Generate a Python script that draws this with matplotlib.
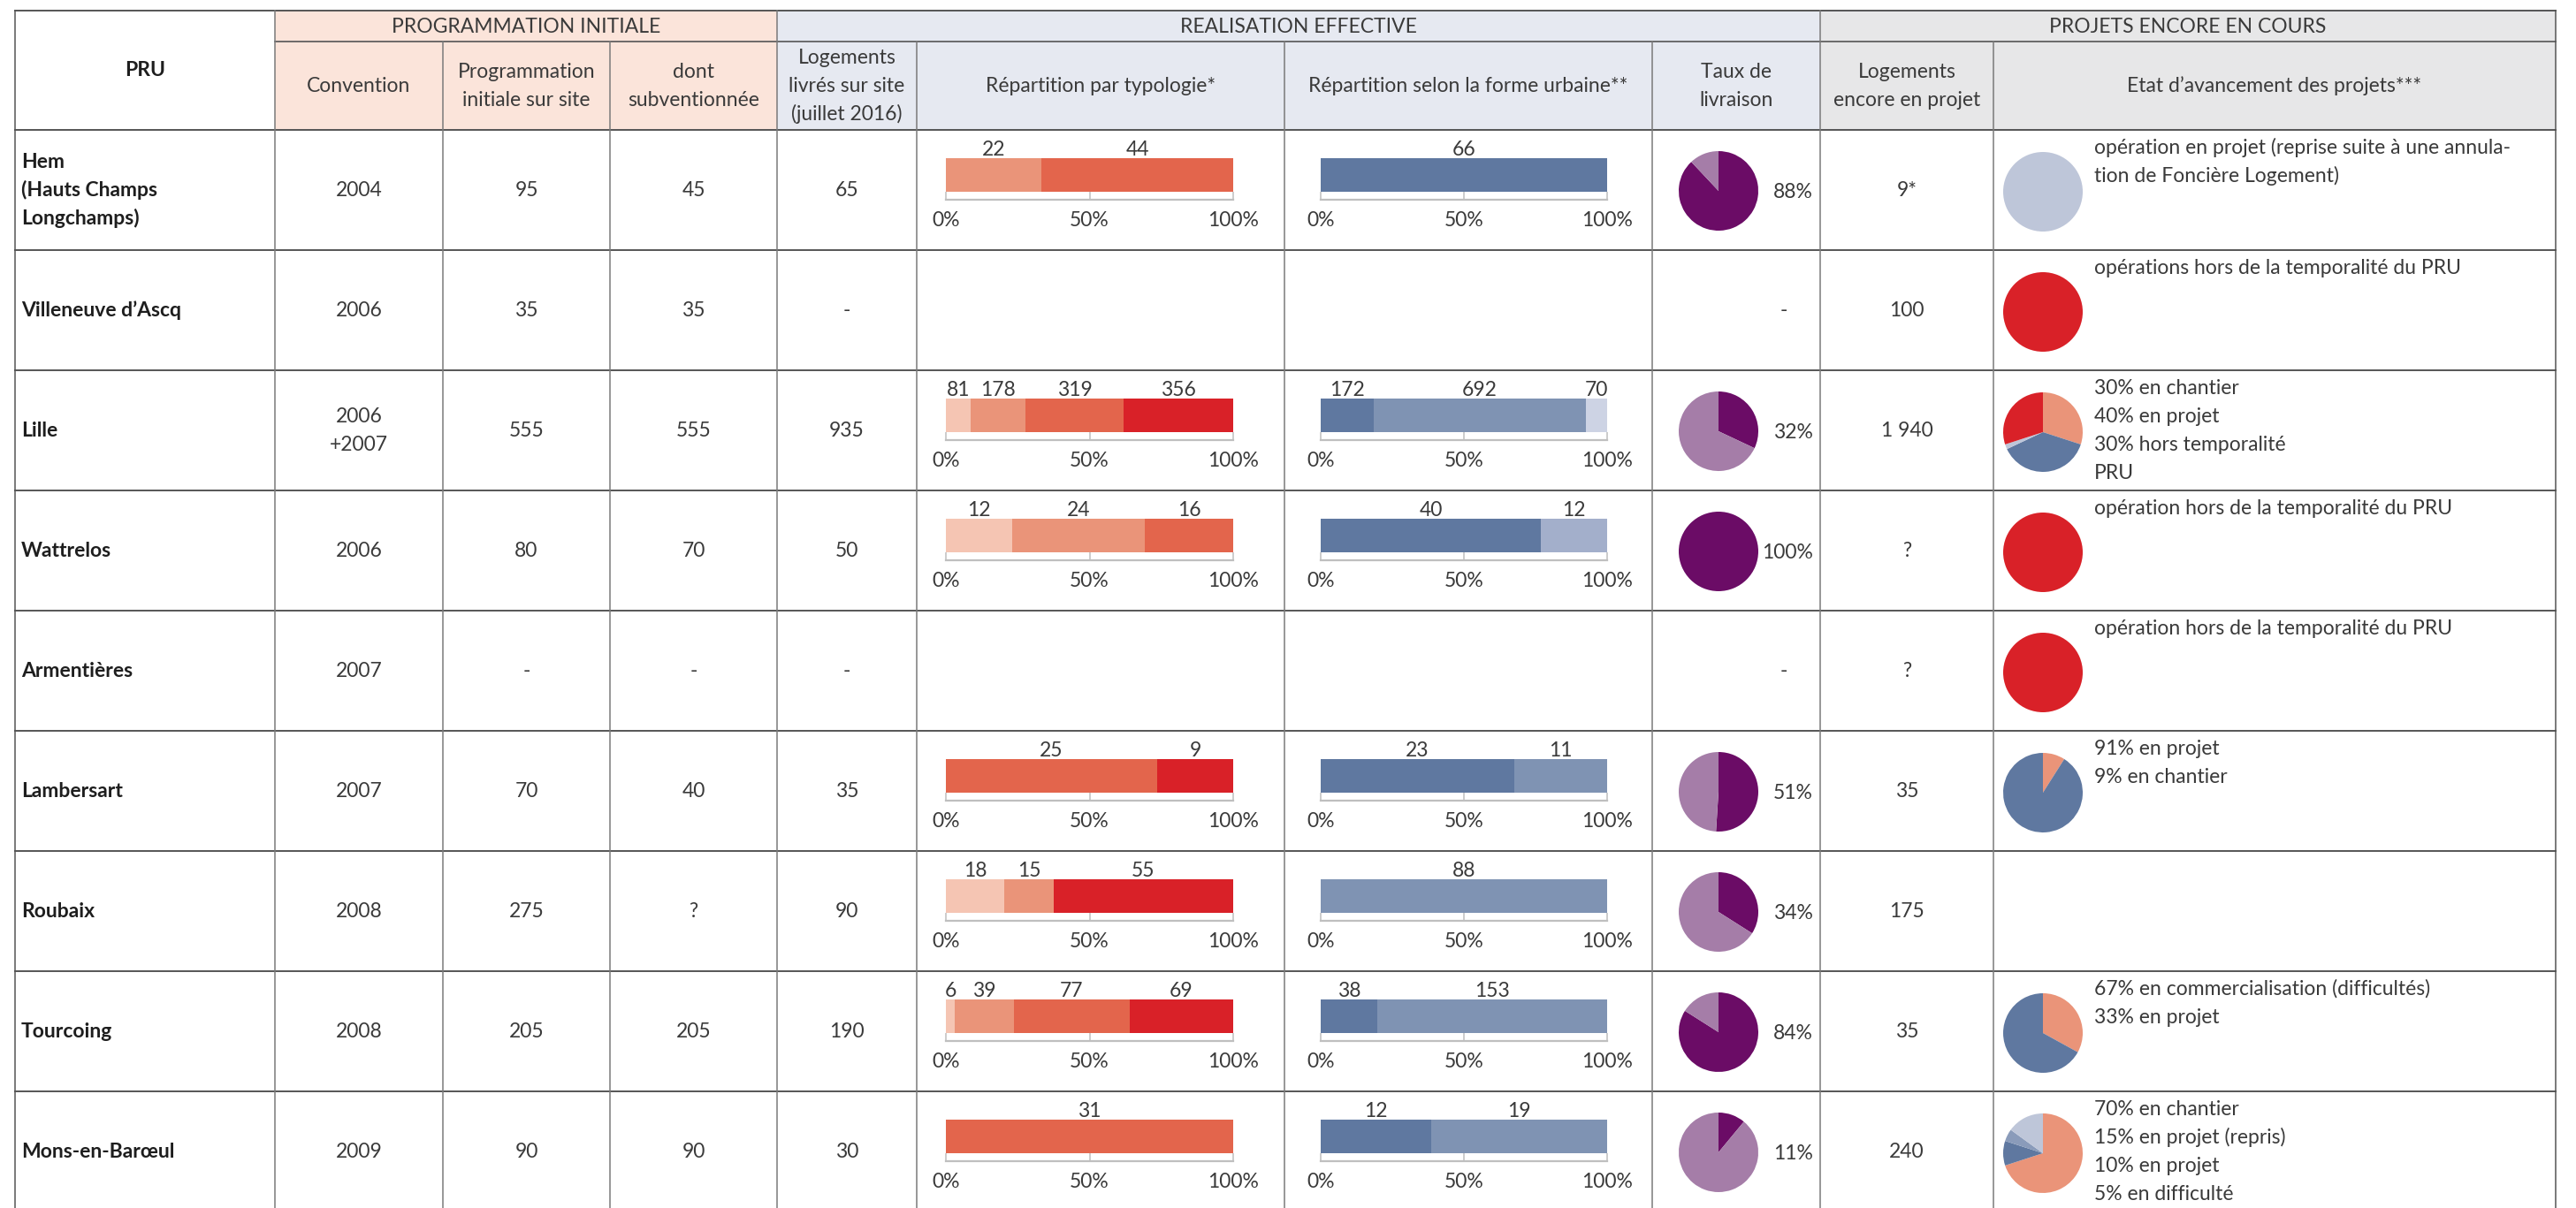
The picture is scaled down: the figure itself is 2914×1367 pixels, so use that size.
import matplotlib
matplotlib.use("Agg")
import matplotlib.pyplot as plt
from matplotlib.patches import Rectangle

# ---------------- data ----------------
pru_names = [["Hem", "(Hauts Champs", "Longchamps)"], ["Villeneuve d’Ascq"], ["Lille"],
             ["Wattrelos"], ["Armentières"], ["Lambersart"], ["Roubaix"], ["Tourcoing"],
             ["Mons-en-Barœul"]]
convention = [["2004"], ["2006"], ["2006", "+2007"], ["2006"], ["2007"], ["2007"],
              ["2008"], ["2008"], ["2009"]]
prog_initiale = ["95", "35", "555", "80", "-", "70", "275", "205", "90"]
dont_subv = ["45", "35", "555", "70", "-", "40", "?", "205", "90"]
logements_livres = ["65", "-", "935", "50", "-", "35", "90", "190", "30"]

# Répartition par typologie (4 categories, 0 = absent)
typologie = [[0, 22, 44, 0], None, [81, 178, 319, 356], [12, 24, 16, 0], None,
             [0, 0, 25, 9], [18, 15, 0, 55], [6, 39, 77, 69], [0, 0, 31, 0]]
# Répartition selon la forme urbaine (4 categories, 0 = absent)
forme_urbaine = [[66, 0, 0, 0], None, [172, 692, 0, 70], [40, 0, 12, 0], None,
                 [23, 11, 0, 0], [0, 88, 0, 0], [38, 153, 0, 0], [12, 19, 0, 0]]
taux_livraison = [88, None, 32, 100, None, 51, 34, 84, 11]
logements_encore = ["9*", "100", "1 940", "?", "?", "35", "175", "35", "240"]

etat_values = [[100], [100], [30, 38, 2, 30], [100], [100], [9, 91], None,
               [33, 67], [70, 10, 5, 15]]
etat_text = [
    ["opération en projet (reprise suite à une annula-", "tion de Foncière Logement)"],
    ["opérations hors de la temporalité du PRU"],
    ["30% en chantier", "40% en projet", "30% hors temporalité", "PRU"],
    ["opération hors de la temporalité du PRU"],
    ["opération hors de la temporalité du PRU"],
    ["91% en projet", "9% en chantier"],
    [],
    ["67% en commercialisation (difficultés)", "33% en projet"],
    ["70% en chantier", "15% en projet (repris)", "10% en projet", "5% en difficulté"],
]

group_headers = ["PROGRAMMATION INITIALE", "REALISATION EFFECTIVE", "PROJETS ENCORE EN COURS"]
col_headers = [["PRU"], ["Convention"], ["Programmation", "initiale sur site"],
               ["dont", "subventionnée"], ["Logements", "livrés sur site", "(juillet 2016)"],
               ["Répartition par typologie*"], ["Répartition selon la forme urbaine**"],
               ["Taux de", "livraison"], ["Logements", "encore en projet"],
               ["Etat d’avancement des projets***"]]

# ---------------- style ----------------
TYPO_COLORS = ["#F5C5B3", "#EA9479", "#E3654C", "#D92128"]
FORME_COLORS = ["#5F78A0", "#7F93B3", "#A3AFCB", "#CDD3E4"]
TAUX_COLORS = ["#6B0C66", "#A57DA8"]
SALMON, DBLUE, MBLUE, LBLUE, RED = "#EA9479", "#5F78A0", "#8A9BBA", "#BEC6D9", "#D92128"
etat_colors = [[LBLUE], [RED], [SALMON, DBLUE, LBLUE, RED], [RED], [RED], [SALMON, DBLUE],
               None, [SALMON, DBLUE], [SALMON, DBLUE, MBLUE, LBLUE]]
BG_SALMON, BG_BLUE, BG_GRAY = "#FBE4DA", "#E6E9F1", "#E7E7E8"
TXT = "#3a3a3a"
BOLD_TXT = "#1E1E1E"
FS = 16.5
LS = 32  # line spacing px
FW = "normal"

plt.rcParams["font.family"] = ["Lato", "DejaVu Sans"]

W, H = 2914, 1367
fig = plt.figure(figsize=(W / 100, H / 100), dpi=100)
bg = fig.add_axes([0, 0, 1, 1])
bg.set_xlim(0, W)
bg.set_ylim(H, 0)
bg.axis("off")

col_x = [17, 311, 501, 690, 879, 1037, 1453, 1869, 2059, 2255, 2891]
hdr_y = [12, 47, 147]
ROW_H = 136
n_rows = len(pru_names)
row_y = [147 + ROW_H * i for i in range(n_rows + 1)]


def frect(x0, y0, x1, y1):
    return [x0 / W, 1 - y1 / H, (x1 - x0) / W, (y1 - y0) / H]


def lines_text(x, yc, lines, ha="center", bold=False, color=TXT):
    n = len(lines)
    for k, s in enumerate(lines):
        bg.text(x, yc + (k - (n - 1) / 2) * LS, s, ha=ha, va="center", fontsize=FS,
                color=color, fontweight="bold" if bold else FW)


# header backgrounds
groups = [(col_x[1], col_x[4], BG_SALMON), (col_x[4], col_x[8], BG_BLUE), (col_x[8], col_x[10], BG_GRAY)]
for (x0, x1, c), title in zip(groups, group_headers):
    bg.add_patch(Rectangle((x0, hdr_y[0]), x1 - x0, hdr_y[2] - hdr_y[0], color=c, lw=0, zorder=0))
    bg.text((x0 + x1) / 2, (hdr_y[0] + hdr_y[1]) / 2 + 1, title, ha="center", va="center",
            fontsize=FS, color=TXT, fontweight=FW)

for j, lines in enumerate(col_headers):
    xc = (col_x[j] + col_x[j + 1]) / 2
    if j == 0:
        lines_text(xc, (hdr_y[0] + hdr_y[2]) / 2, lines, bold=True, color=BOLD_TXT)
    else:
        lines_text(xc, (hdr_y[1] + hdr_y[2]) / 2, lines)

# grid lines
HC, VC = "#555555", "#7a7a7a"
bg.plot([col_x[0], col_x[-1]], [hdr_y[0]] * 2, color=HC, lw=1.4)
bg.plot([col_x[1], col_x[-1]], [hdr_y[1]] * 2, color=HC, lw=1.2)
for y in row_y[:-1]:
    bg.plot([col_x[0], col_x[-1]], [y, y], color=HC, lw=1.4)
for j, x in enumerate(col_x):
    y0 = hdr_y[0] if j in (0, 1, 4, 8, 10) else hdr_y[1]
    bg.plot([x, x], [y0, H], color=VC if j not in (0, 10) else HC, lw=1.1)


def draw_bar(ax, vals, colors):
    total = sum(vals)
    left = 0.0
    for v, c in zip(vals, colors):
        if v == 0:
            continue
        w = v / total
        ax.barh(0.5, w, left=left, height=1.0, color=c, linewidth=0)
        ax.text(left + w / 2, 1.08, str(v), ha="center", va="baseline", fontsize=FS,
                color=TXT, fontweight=FW, clip_on=False)
        left += w
    ax.set_xlim(0, 1)
    ax.set_ylim(-0.237, 1)
    for s in ("top", "left", "right"):
        ax.spines[s].set_visible(False)
    ax.spines["bottom"].set_color("#BFBFBF")
    ax.spines["bottom"].set_linewidth(1.6)
    ax.set_xticks([0, 0.5, 1])
    ax.set_xticklabels(["0%", "50%", "100%"], fontweight=FW)
    ax.tick_params(axis="x", direction="in", length=6.5, width=1.1, color="#BFBFBF",
                   pad=9, labelsize=FS, labelcolor=TXT)
    ax.set_yticks([])
    ax.patch.set_alpha(0)


for i in range(n_rows):
    top = row_y[i]
    yc = top + ROW_H / 2
    # PRU name
    lines_text(24, yc, pru_names[i], ha="left", bold=True, color=BOLD_TXT)
    lines_text((col_x[1] + col_x[2]) / 2, yc, convention[i])
    lines_text((col_x[2] + col_x[3]) / 2, yc, [prog_initiale[i]])
    lines_text((col_x[3] + col_x[4]) / 2, yc, [dont_subv[i]])
    lines_text((col_x[4] + col_x[5]) / 2, yc, [logements_livres[i]])
    lines_text((col_x[8] + col_x[9]) / 2, yc, [logements_encore[i]])

    if typologie[i] is not None:
        ax = fig.add_axes(frect(1070, top + 32, 1395, top + 79))
        draw_bar(ax, typologie[i], TYPO_COLORS)
    if forme_urbaine[i] is not None:
        ax = fig.add_axes(frect(1494, top + 32, 1818, top + 79))
        draw_bar(ax, forme_urbaine[i], FORME_COLORS)

    t = taux_livraison[i]
    if t is not None:
        cy = top + 69
        ax = fig.add_axes(frect(1944 - 45, cy - 45, 1944 + 45, cy + 45))
        ax.pie([t, 100 - t], colors=TAUX_COLORS, startangle=90, counterclock=False,
               wedgeprops={"linewidth": 0})
        ax.set_xlim(-1.0, 1.0)
        ax.set_ylim(-1.0, 1.0)
        ax.set_aspect("equal")
        bg.text(2051, yc + 2, f"{t}%", ha="right", va="center", fontsize=FS, color=TXT,
                fontweight=FW)
    else:
        bg.text(2018, yc, "-", ha="center", va="center", fontsize=FS, color=TXT,
                fontweight=FW)

    ev = etat_values[i]
    if ev is not None:
        cy = top + 70
        ax = fig.add_axes(frect(2311 - 45, cy - 45, 2311 + 45, cy + 45))
        ax.pie(ev, colors=etat_colors[i], startangle=90, counterclock=False,
               wedgeprops={"linewidth": 0})
        ax.set_xlim(-1.0, 1.0)
        ax.set_ylim(-1.0, 1.0)
        ax.set_aspect("equal")
    for k, s in enumerate(etat_text[i]):
        bg.text(2369, top + 20 + k * LS, s, ha="left", va="center", fontsize=FS, color=TXT,
                fontweight=FW)

fig.savefig("out.png", dpi=100)
